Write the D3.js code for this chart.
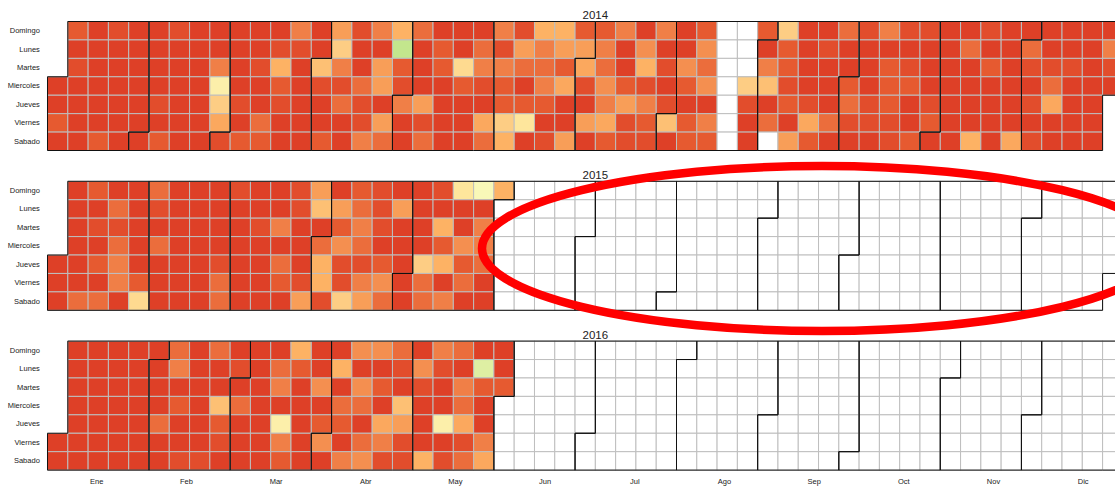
<!DOCTYPE html>
<html>
<head>
<meta charset="utf-8">
<script src="https://cdn.jsdelivr.net/npm/d3@7"></script>
<style>
    body { margin: 0; background: #fff; }
    svg { display: block; overflow: hidden; }
</style>
</head>
<body>
<div id="main"></div>
<script>
var ctx = {
    w: 1115,
    h: 491,
    left: 45.5,
    right: 1145.2,
    top: 21.5,
    step: 159.8,
    rowH: 18.43,
    font: "'Liberation Sans', Arial, sans-serif",
};

var years = [2014, 2015, 2016];
var dayNames = ["Domingo", "Lunes", "Martes", "Miercoles", "Jueves", "Viernes", "Sabado"];
var monthNames = ["Ene", "Feb", "Mar", "Abr", "May", "Jun", "Jul", "Ago", "Sep", "Oct", "Nov", "Dic"];
// month label positions, in week units (same as the original lattice plot)
var monthAt = [2.9, 7.32, 11.74, 16.16, 20.58, 25.0, 29.42, 33.84, 38.26, 42.68, 47.1, 51.52];

// colour of each level, 0 = lowest (red) .. 8 = highest (green)
var levelColors = ["#de4027", "#e65a30", "#f07f47", "#f89e58", "#fdb264", "#fdcd84", "#fee69c", "#f9f8b8", "#c3e68d"];

// one entry per week column, days Domingo..Sabado, _ = no value
var _ = null;
var weeks2014 = [
    [_, _, _, 0, 0, 1, 0],
    [1, 0, 0.5, 0, 0, 0, 0],
    [0, 0, 0, 0, 0, 0, 1],
    [0.5, 0, 0, 0, 0, 0, 0],
    [0, 0, 0, 0, 0, 0, 0],
    [0, 0, 0, 0, 0.5, 0, 1],
    [0.5, 0, 0, 0, 0, 0, 0],
    [0, 0, 0, 0, 0, 0, 0],
    [0, 0, 2, 6.5, 5, 3.5, 0.5],
    [0, 0, 0, 0, 0.5, 0, 1],
    [0, 0, 0.5, 0, 0, 1.5, 1],
    [0, 0.5, 4, 1, 0.5, 0, 0],
    [2, 0.5, 0, 0, 0, 0, 0],
    [0, 0, 4.5, 0.5, 0, 0, 1],
    [3, 5, 2, 0.5, 1.5, 0, 0],
    [0.5, 0, 0, 1.5, 0.5, 0.5, 2],
    [2, 0, 3, 3, 0, 3, 1.5],
    [4, 8, 1, 0.5, 2, 0, 0],
    [1.5, 0, 0, 0, 3, 0.5, 1.5],
    [0, 1, 1, 0, 0, 0, 0],
    [0, 0, 5.5, 1, 0, 0, 0],
    [0, 1.5, 2, 0.5, 0, 3.5, 1.5],
    [2, 0.5, 2, 1, 1, 5, 4],
    [0.5, 3, 1.5, 0, 1, 6, 0],
    [4, 2, 1.5, 2, 1, 0, 0.5],
    [4, 3, 1, 3.5, 0, 0, 3],
    [1, 3, 3.5, 0.5, 0, 3, 0],
    [1, 2, 1.5, 2.5, 2, 3.5, 1],
    [2, 0, 0, 1, 3, 0.5, 0.5],
    [0, 2.5, 4, 0.5, 2, 1, 0.5],
    [2, 0, 0.5, 0, 0.5, 4.5, 0],
    [0, 0, 2.5, 1, 0, 1, 1],
    [1, 2.5, 1.5, 2.5, 0, 2, 1],
    [_, _, _, _, _, _, _],
    [_, _, _, 5, 0.5, 0, 0],
    [1, 0, 2, 4.5, 0, 1.5, _],
    [5, 1, 1, 0.5, 1, 0, 3],
    [0, 0, 0, 0, 0.5, 3.5, 1],
    [0, 0.5, 0, 0, 0, 1.5, 0],
    [1.5, 0, 0, 1, 1.5, 0.5, 0],
    [0.5, 0, 0, 0, 0.5, 0.5, 0],
    [2, 0, 1, 1, 1, 0.5, 0.5],
    [0.5, 0, 0.5, 1, 0, 0, 1],
    [0.5, 0, 0, 0, 0.5, 1, 0],
    [0, 0, 0, 0, 0, 0, 0],
    [0, 1.5, 0, 0, 0, 0, 4],
    [0.5, 0, 1, 0, 0, 0, 0],
    [0, 0, 0, 0, 0, 0, 3.5],
    [0, 1.5, 0.5, 0, 0.5, 0, 0.5],
    [0, 0, 0.5, 1.5, 3.5, 0, 0],
    [0, 0, 0.5, 0, 0, 0, 0],
    [0, 0, 0, 0, 0, 0, 0],
    [0, 2, 0.5, 0, _, _, _]
];
var weeks2015 = [
    [_, _, _, _, 0, 0, 0],
    [0, 0, 0, 0, 0, 0, 1.5],
    [1, 0, 0.5, 0, 1, 0, 1.5],
    [0, 1.5, 0.5, 1.5, 2, 2, 0],
    [0, 0, 0, 0, 0, 1, 5.5],
    [1.5, 0.5, 0, 1.5, 0, 0, 0],
    [0, 0, 0, 0, 0, 0, 0],
    [0, 0, 0, 0, 0, 0, 0],
    [0, 0, 0, 0, 0.5, 1.5, 1.5],
    [0.5, 0, 0, 0, 0, 0, 0],
    [0, 0, 0.5, 0, 0, 0, 0],
    [0, 0, 2, 0, 1.5, 1, 0],
    [0.5, 0.5, 0, 0, 0, 0.5, 3],
    [3, 4.5, 0, 1.5, 4, 4, 0.5],
    [0, 3, 1, 2.5, 0.5, 0.5, 5],
    [1, 1.5, 2, 1.5, 0.5, 2, 3],
    [0.5, 0.5, 0.5, 0, 1, 2.5, 1.5],
    [0, 3, 0, 0, 0, 0, 0],
    [0, 0, 0, 0, 5, 1.5, 1.5],
    [0.5, 0, 4, 1, 4, 0, 2],
    [6, 0, 0, 2.5, 1, 1.5, 0],
    [7, 0, 2, 2, 1.5, 0, 0],
    [4, _, _, _, _, _, _]
];
var weeks2016 = [
    [_, _, _, _, _, 0, 0],
    [0, 0, 0, 0, 0, 0, 0],
    [0, 0, 0, 0, 0, 0, 0],
    [0, 0, 0, 0, 0, 0, 0],
    [0, 0, 0, 0, 0, 0, 0],
    [0, 0, 0, 0, 1.5, 0, 0],
    [1.5, 2, 0, 1, 0, 0, 0.5],
    [0, 0, 0, 0, 0, 0, 0.5],
    [1.5, 0, 0, 4.5, 1, 0.5, 0],
    [0, 0.5, 0, 1.5, 0, 0, 0],
    [0, 0, 0, 0, 0, 0, 0],
    [0, 1.5, 2, 0, 6.5, 2, 1],
    [4, 1, 0, 0, 0, 0, 0],
    [0, 0, 2.5, 0, 1, 2.5, 0],
    [0, 4, 0, 1.5, 1, 0, 2],
    [2.5, 0, 2.5, 1.5, 0, 1.5, 2.5],
    [2.5, 0, 1, 0, 3.5, 2, 0.5],
    [1.5, 0.5, 0, 4.5, 3, 0.5, 0.5],
    [0, 2.5, 0.5, 0, 0, 0, 4],
    [2, 0.5, 0, 0, 6.5, 0, 0.5],
    [1.5, 0, 2, 1.5, 3.5, 0.5, 1.5],
    [0, 7.5, 1, 0, 0, 2, 3.5],
    [0, 0, 1, _, _, _, _]
];

var weeksByYear = { 2014: weeks2014, 2015: weeks2015, 2016: weeks2016 };

// the week column of a day (weeks start on Sunday)
var weekOf = function(d) { return d3.timeWeek.count(d3.timeYear(d), d); };

var createYear = function(g, yr, weeks, x, row, color) {
    var days = d3.timeDays(new Date(yr, 0, 1), new Date(yr + 1, 0, 1));

    // we draw one cell per day, white when there is no value
    g.selectAll("rect.day")
        .data(days)
        .enter().append("rect")
        .attr("class", "day")
        .attr("x", function(d) { return x(weekOf(d) + 0.5); })
        .attr("y", function(d) { return row(d.getDay()); })
        .attr("width", function(d) { return x(weekOf(d) + 1.5) - x(weekOf(d) + 0.5); })
        .attr("height", row.bandwidth())
        .attr("fill", function(d) {
            var w = weeks[weekOf(d)];
            var v = w ? w[d.getDay()] : null;
            return v == null ? "#fff" : color(v);
        })
        .attr("stroke", "#bebebe")
        .attr("stroke-width", 1);

    // month outlines
    var X = function(e) { return x(e + 0.5); },
        Y = function(r) { return r * ctx.rowH; };
    var outline = function(m) {
        var f = new Date(yr, m, 1), l = new Date(yr, m + 1, 0);
        var c1 = weekOf(f), r1 = f.getDay(), c2 = weekOf(l), r2 = l.getDay();
        var pts = [[c1, r1], [c1 + 1, r1], [c1 + 1, 0], [c2 + 1, 0], [c2 + 1, r2 + 1],
                   [c2, r2 + 1], [c2, 7], [c1, 7]];
        return d3.line().x(function(p) { return X(p[0]); }).y(function(p) { return Y(p[1]); })(pts) + "Z";
    };
    g.selectAll("path.month")
        .data(d3.range(12))
        .enter().append("path")
        .attr("class", "month")
        .attr("d", outline)
        .attr("fill", "none")
        .attr("stroke", "#111")
        .attr("stroke-width", 1);

    // day names on the left
    var yAxis = d3.axisLeft(row).tickFormat(function(i) { return dayNames[i]; }).tickSize(0).tickPadding(0);
    g.append("g")
        .attr("transform", "translate(39.8,0)")
        .call(yAxis)
        .call(function(a) { a.select(".domain").remove(); })
        .selectAll("text")
        .attr("font-family", ctx.font)
        .attr("font-size", "7.5px")
        .attr("fill", "#1a1a1a");

    // year title
    g.append("text")
        .attr("x", (ctx.left + ctx.right) / 2)
        .attr("y", -2.5)
        .attr("text-anchor", "middle")
        .attr("font-family", ctx.font)
        .attr("font-size", "11.5px")
        .attr("fill", "#222")
        .text(yr);
};

var createViz = function() {
    var svg = d3.select("#main").append("svg")
        .attr("width", ctx.w)
        .attr("height", ctx.h);

    var x = d3.scaleLinear().domain([0.4, 54.6]).range([ctx.left, ctx.right]);
    var row = d3.scaleBand().domain(d3.range(7)).range([0, 7 * ctx.rowH]);
    var color = d3.scaleLinear().domain(d3.range(levelColors.length)).range(levelColors);

    years.forEach(function(yr, i) {
        var g = svg.append("g").attr("transform", "translate(0," + (ctx.top + i * ctx.step) + ")");
        createYear(g, yr, weeksByYear[yr], x, row, color);
    });

    // month names only under the last panel
    var xAxis = d3.axisBottom(x)
        .tickValues(monthAt)
        .tickFormat(function(d, i) { return monthNames[i]; })
        .tickSize(0)
        .tickPadding(8.7);
    svg.append("g")
        .attr("transform", "translate(0," + (ctx.top + 2 * ctx.step + 7 * ctx.rowH) + ")")
        .call(xAxis)
        .call(function(a) { a.select(".domain").remove(); })
        .selectAll("text")
        .attr("font-family", ctx.font)
        .attr("font-size", "7.5px")
        .attr("fill", "#1a1a1a");

    // the red ellipse drawn over the empty part of 2015
    svg.append("ellipse")
        .attr("cx", 822)
        .attr("cy", 248.5)
        .attr("rx", 340)
        .attr("ry", 82.5)
        .attr("fill", "none")
        .attr("stroke", "#ff0000")
        .attr("stroke-width", 8.5);
};

createViz();
</script>
</body>
</html>
